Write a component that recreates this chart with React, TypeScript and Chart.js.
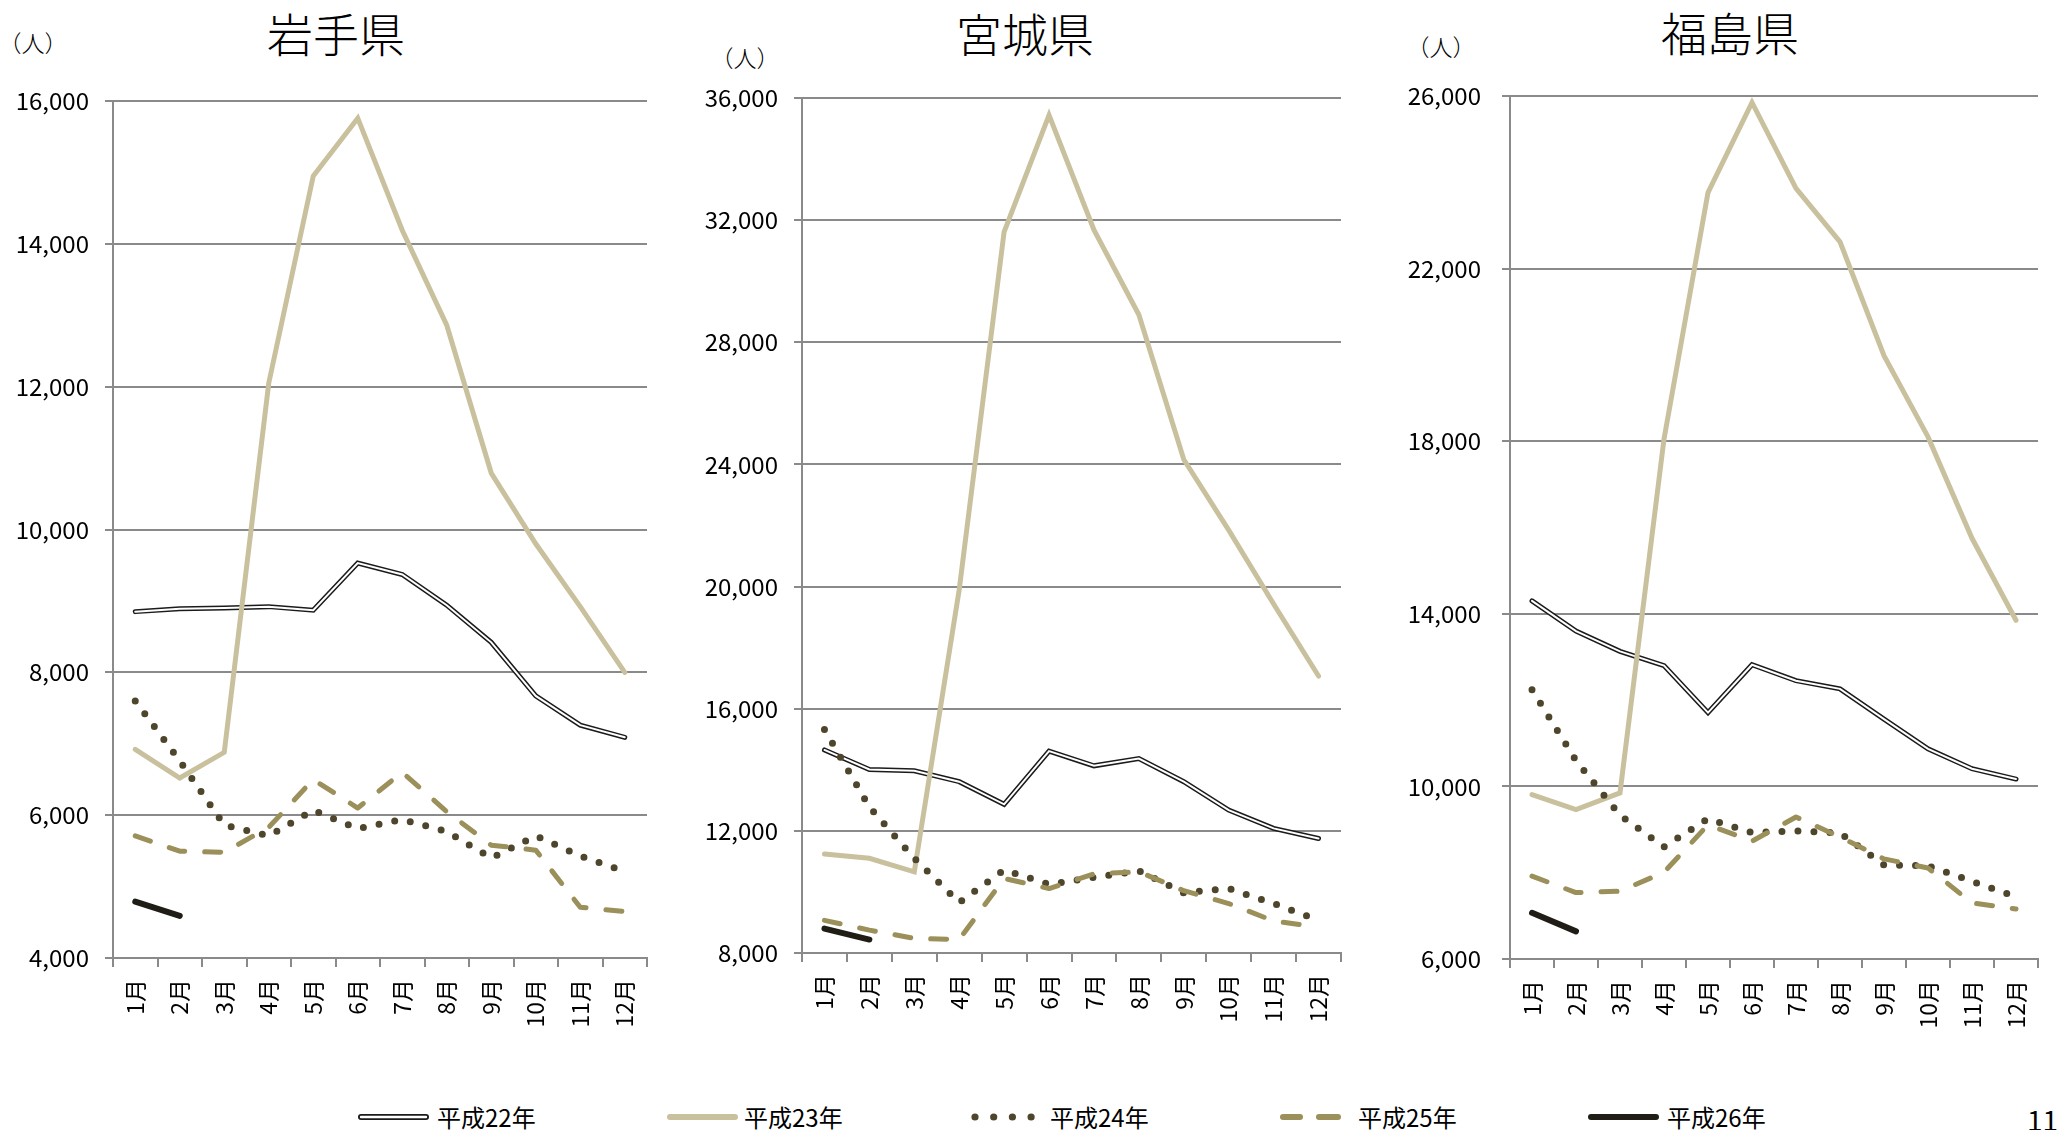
import React, { useEffect, useRef } from 'react';
import { Chart, registerables } from 'chart.js';

Chart.register(...registerables);

// ---- data -------------------------------------------------------------
const MONTHS = ['1月', '2月', '3月', '4月', '5月', '6月', '7月', '8月', '9月', '10月', '11月', '12月'];
const SERIES_NAMES = ['平成22年', '平成23年', '平成24年', '平成25年', '平成26年'];

// 岩手県
const IWATE_H22 = [8850, 8890, 8900, 8920, 8870, 9530, 9370, 8940, 8420, 7670, 7260, 7090];
const IWATE_H23 = [6920, 6520, 6880, 12050, 14950, 15760, 14190, 12860, 10790, 9800, 8920, 8000];
const IWATE_H24 = [7600, 6760, 5860, 5710, 6070, 5810, 5940, 5770, 5400, 5710, 5430, 5210];
const IWATE_H25 = [5710, 5495, 5480, 5830, 6500, 6100, 6600, 6050, 5580, 5510, 4710, 4650];
const IWATE_H26 = [4790, 4590];

// 宮城県
const MIYAGI_H22 = [14650, 14010, 13970, 13610, 12870, 14610, 14130, 14370, 13610, 12680, 12080, 11750];
const MIYAGI_H23 = [11240, 11100, 10660, 19900, 31620, 35440, 31680, 28900, 24160, 21850, 19430, 17070];
const MIYAGI_H24 = [15320, 12780, 11100, 9650, 10720, 10250, 10480, 10690, 9970, 10110, 9620, 9070];
const MIYAGI_H25 = [9070, 8750, 8480, 8440, 10440, 10110, 10590, 10660, 10040, 9620, 9050, 8850];
const MIYAGI_H26 = [8800, 8440];

// 福島県
const FUKUSHIMA_H22 = [14300, 13600, 13130, 12800, 11710, 12820, 12450, 12260, 11560, 10870, 10410, 10170];
const FUKUSHIMA_H23 = [9810, 9460, 9850, 18050, 23760, 25850, 23860, 22620, 19980, 18100, 15750, 13850];
const FUKUSHIMA_H24 = [12240, 10600, 9330, 8600, 9250, 8930, 8970, 8920, 8180, 8160, 7800, 7440];
const FUKUSHIMA_H25 = [7920, 7540, 7570, 8010, 9110, 8730, 9290, 8830, 8320, 8110, 7300, 7160];
const FUKUSHIMA_H26 = [7070, 6640];

// y-axis ranges: [min, max, step]
const IWATE_RANGE = [4000, 16000, 2000];
const MIYAGI_RANGE = [8000, 36000, 4000];
const FUKUSHIMA_RANGE = [6000, 26000, 4000];

// ---- styling ----------------------------------------------------------
const FONT = '"Noto Sans CJK JP", "Noto Sans", sans-serif';
const GRID = '#8a8a8a';
const C_H22 = '#1b1b1b';
const C_H23 = '#c9c19d';
const C_H24 = '#4d452c';
const C_H25 = '#9b8f5a';
const C_H26 = '#1f1d15';
const CANVAS_H = 1060;

type Panel = {
  title: string;
  series: number[][];
  range: number[];
  canvasLeft: number;
  canvasWidth: number;
  area: { left: number; right: number; top: number; bottom: number };
  labelPad: number;
  titleX: number;
  titleY: number;
  unitX: number;
  unitY: number;
};

const PANELS: Panel[] = [
  {
    title: '岩手県',
    series: [IWATE_H22, IWATE_H23, IWATE_H24, IWATE_H25, IWATE_H26],
    range: IWATE_RANGE,
    canvasLeft: 0,
    canvasWidth: 662,
    area: { left: 113, right: 647, top: 101, bottom: 958 },
    labelPad: 16,
    titleX: 336,
    titleY: 32,
    unitX: 33,
    unitY: 42,
  },
  {
    title: '宮城県',
    series: [MIYAGI_H22, MIYAGI_H23, MIYAGI_H24, MIYAGI_H25, MIYAGI_H26],
    range: MIYAGI_RANGE,
    canvasLeft: 680,
    canvasWidth: 676,
    area: { left: 802, right: 1341, top: 98, bottom: 953 },
    labelPad: 16,
    titleX: 1025,
    titleY: 32,
    unitX: 745,
    unitY: 57,
  },
  {
    title: '福島県',
    series: [FUKUSHIMA_H22, FUKUSHIMA_H23, FUKUSHIMA_H24, FUKUSHIMA_H25, FUKUSHIMA_H26],
    range: FUKUSHIMA_RANGE,
    canvasLeft: 1370,
    canvasWidth: 688,
    area: { left: 1510, right: 2038, top: 96, bottom: 959 },
    labelPad: 21,
    titleX: 1730,
    titleY: 31,
    unitX: 1441,
    unitY: 46,
  },
];

const withCommas = (v: number) => String(v).replace(/\B(?=(\d{3})+(?!\d))/g, ',');

function PanelChart({ spec }: { spec: Panel }) {
  const ref = useRef<HTMLCanvasElement>(null);

  useEffect(() => {
    const canvas = ref.current;
    if (!canvas) return;
    const [h22, h23, h24, h25, h26] = spec.series;
    const [min, max, step] = spec.range;
    const { area, canvasLeft, canvasWidth } = spec;
    const base = { pointRadius: 0, pointHoverRadius: 0, tension: 0, fill: false };

    const chart = new Chart(canvas, {
      type: 'line',
      data: {
        labels: MONTHS,
        datasets: [
          // 平成22年: double line (dark outline with a white core)
          { ...base, label: SERIES_NAMES[0], data: h22, borderColor: C_H22, borderWidth: 5, borderCapStyle: 'round', order: 6 },
          { ...base, label: SERIES_NAMES[0], data: h22, borderColor: '#ffffff', borderWidth: 2, borderCapStyle: 'round', order: 5 },
          { ...base, label: SERIES_NAMES[1], data: h23, borderColor: C_H23, borderWidth: 5, borderCapStyle: 'round', order: 4 },
          { ...base, label: SERIES_NAMES[2], data: h24, borderColor: C_H24, borderWidth: 7, borderDash: [0, 16], borderCapStyle: 'round', borderJoinStyle: 'round', order: 3 },
          { ...base, label: SERIES_NAMES[3], data: h25, borderColor: C_H25, borderWidth: 5, borderDash: [16, 20], borderCapStyle: 'round', borderJoinStyle: 'round', order: 2 },
          { ...base, label: SERIES_NAMES[4], data: h26, borderColor: C_H26, borderWidth: 6, borderCapStyle: 'round', order: 1 },
        ] as any,
      },
      options: {
        animation: false,
        responsive: false,
        devicePixelRatio: 1,
        events: [],
        layout: {
          padding: { top: area.top, right: canvasLeft + canvasWidth - area.right, left: 0, bottom: 0 },
        },
        plugins: {
          legend: { display: false },
          tooltip: { enabled: false },
          title: { display: false },
        },
        scales: {
          x: {
            type: 'category',
            offset: true,
            grid: {
              offset: true,
              drawOnChartArea: false,
              drawTicks: true,
              tickLength: 9,
              color: GRID,
              lineWidth: 2,
            },
            border: { display: true, color: GRID, width: 2 },
            ticks: {
              minRotation: 90,
              maxRotation: 90,
              autoSkip: false,
              padding: 12,
              color: '#000',
              font: { family: FONT, size: 23 },
            },
            afterFit: (s: any) => {
              s.height = CANVAS_H - area.bottom;
              s.paddingLeft = 0;
              s.paddingRight = 0;
            },
          },
          y: {
            type: 'linear',
            min,
            max,
            ticks: {
              stepSize: step,
              padding: spec.labelPad,
              color: '#000',
              font: { family: FONT, size: 24 },
              callback: (v: any) => withCommas(Number(v)),
            },
            grid: { color: GRID, lineWidth: 2, drawTicks: true, tickLength: 8 },
            border: { display: true, color: GRID, width: 2 },
            afterFit: (s: any) => {
              s.width = area.left - canvasLeft;
              s.paddingTop = 0;
              s.paddingBottom = 0;
            },
          },
        },
      } as any,
    });
    return () => chart.destroy();
  }, [spec]);

  return (
    <>
      <div
        style={{
          position: 'absolute',
          left: spec.titleX,
          top: spec.titleY,
          transform: 'translate(-50%, -50%)',
          fontSize: 46,
          fontWeight: 300,
          lineHeight: 1,
          whiteSpace: 'nowrap',
        }}
      >
        {spec.title}
      </div>
      <div
        style={{
          position: 'absolute',
          left: spec.unitX,
          top: spec.unitY,
          transform: 'translate(-50%, -50%)',
          fontSize: 23,
          fontWeight: 300,
          lineHeight: 1,
          whiteSpace: 'nowrap',
        }}
      >
        （人）
      </div>
      <canvas
        ref={ref}
        width={spec.canvasWidth}
        height={CANVAS_H}
        style={{ position: 'absolute', left: spec.canvasLeft, top: 0, width: spec.canvasWidth, height: CANVAS_H, display: 'block' }}
      />
    </>
  );
}

// ---- legend -----------------------------------------------------------
const LEGEND_Y = 1117;
const LEGEND_SAMPLE_X = [358, 667, 971, 1280, 1588];
const LEGEND_TEXT_X = [437, 744, 1050, 1358, 1667];

function Legend() {
  const cy = 15;
  const [x1, x2, x3, x4, x5] = LEGEND_SAMPLE_X;
  return (
    <>
      <svg
        width={2058}
        height={30}
        style={{ position: 'absolute', left: 0, top: LEGEND_Y - cy }}
      >
        <line x1={x1 + 3} x2={x1 + 68} y1={cy} y2={cy} stroke={C_H22} strokeWidth={6} strokeLinecap="round" />
        <line x1={x1 + 3} x2={x1 + 68} y1={cy} y2={cy} stroke="#fff" strokeWidth={2.4} strokeLinecap="round" />
        <line x1={x2 + 3} x2={x2 + 68} y1={cy} y2={cy} stroke={C_H23} strokeWidth={6} strokeLinecap="round" />
        {[0, 1, 2, 3].map((i) => (
          <circle key={i} cx={x3 + 4 + i * 18.7} cy={cy} r={3.6} fill={C_H24} />
        ))}
        <line x1={x4 + 3} x2={x4 + 20} y1={cy} y2={cy} stroke={C_H25} strokeWidth={6} strokeLinecap="round" />
        <line x1={x4 + 39} x2={x4 + 58} y1={cy} y2={cy} stroke={C_H25} strokeWidth={6} strokeLinecap="round" />
        <line x1={x5 + 3} x2={x5 + 68} y1={cy} y2={cy} stroke={C_H26} strokeWidth={6} strokeLinecap="round" />
      </svg>
      {SERIES_NAMES.map((name, i) => (
        <div
          key={name}
          style={{
            position: 'absolute',
            left: LEGEND_TEXT_X[i],
            top: LEGEND_Y,
            transform: 'translateY(-50%)',
            fontSize: 24,
            lineHeight: 1,
            whiteSpace: 'nowrap',
          }}
        >
          {name}
        </div>
      ))}
    </>
  );
}

export default function App() {
  return (
    <div
      style={{
        position: 'absolute',
        left: 0,
        top: 0,
        width: 2058,
        height: 1130,
        overflow: 'hidden',
        background: '#fff',
        color: '#000',
        fontFamily: FONT,
      }}
    >
      {PANELS.map((p) => (
        <PanelChart key={p.title} spec={p} />
      ))}
      <Legend />
      <div
        style={{
          position: 'absolute',
          left: 2027,
          top: 1119,
          transform: 'translateY(-50%)',
          fontSize: 28,
          lineHeight: 1,
          whiteSpace: 'nowrap',
        }}
      >
        11
      </div>
    </div>
  );
}
